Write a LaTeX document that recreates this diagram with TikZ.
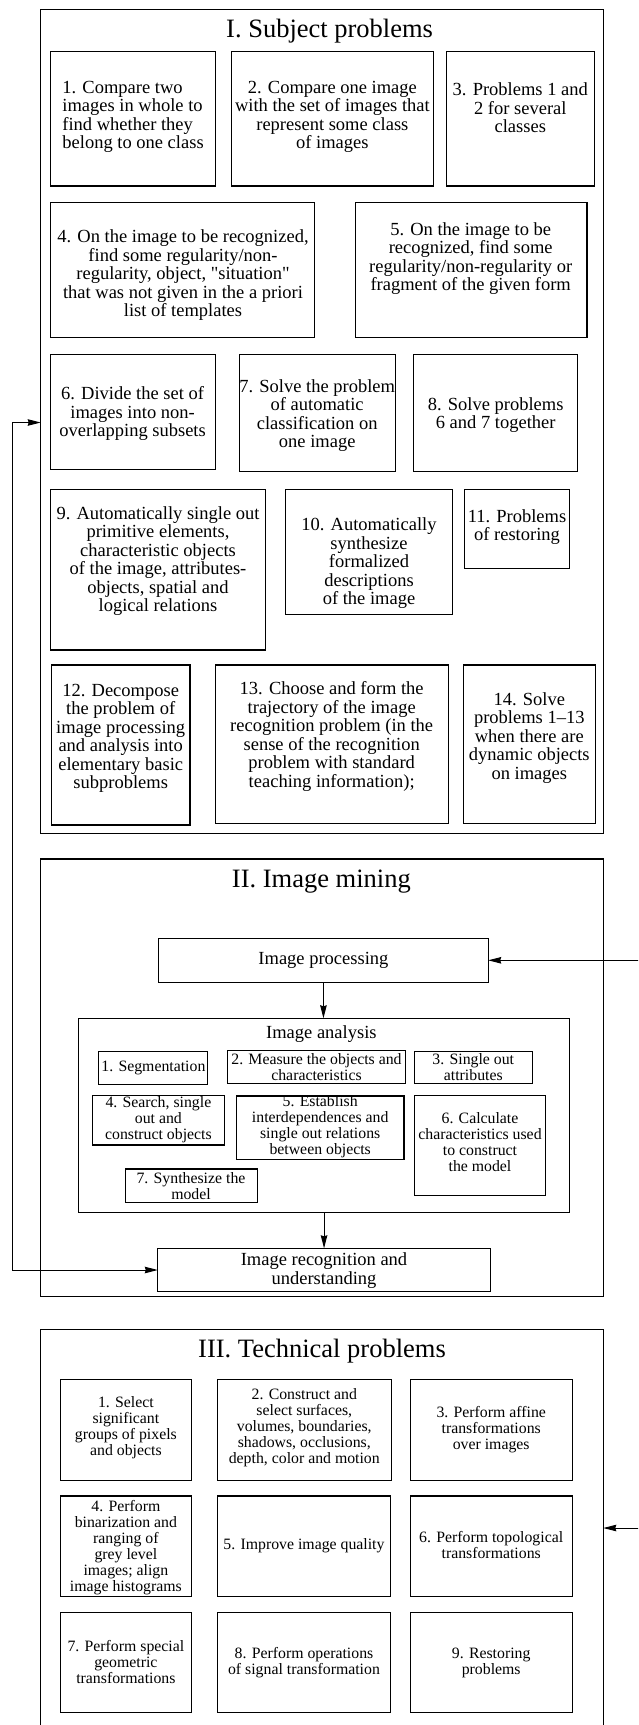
\documentclass[tikz,border=0pt]{standalone}
\usepackage{fontspec}
\setmainfont{Liberation Serif}
\newfontfamily\qfont{Liberation Serif}
\usetikzlibrary{arrows.meta}
\newcommand\bigfont{\fontsize{18.5}{18.5}\selectfont}
\newcommand\smfont{\fontsize{15.8}{16}\selectfont}
\newcommand\ttlfont{\fontsize{26.5}{30}\selectfont}
\newcommand\sq{{\qfont"}}
\newcommand\mkbox[6][bx]{\node[#1,minimum width={#5-#3},minimum height={#6-#4}] (#2) at ({(#3+#5)/2},{(#4+#6)/2}) {};}
\tikzset{
  bx/.style={draw, rectangle, line width=1.1pt, inner sep=0pt, outer sep=0pt},
  obx/.style={draw, rectangle, line width=1.2pt, inner sep=0pt, outer sep=0pt},
  txt/.style={inner sep=0pt, align=center, font=\bigfont},
  stxt/.style={inner sep=0pt, align=center, font=\smfont},
  ttl/.style={inner sep=0pt, font=\ttlfont},
  tip/.tip={Stealth[length=13pt,width=6.5pt,inset=1pt]},
  arr/.style={line width=1pt, -tip},
  darr/.style={line width=1pt, tip-tip},
}
\begin{document}
\begin{tikzpicture}[x=1pt,y=-1pt]
\useasboundingbox (0,0) rectangle (638,1725);
\clip (0,0) rectangle (638,1725);
% ---------- I. Subject problems ----------
\mkbox[obx]{boxI}{40.7}{9.3}{603.3}{833.3}
\node[ttl] (ttlI) at (329.6,31.5) {I. Subject problems};
\mkbox{b1}{50.4}{51.7}{215.6}{186}
\mkbox{b2}{231.9}{51.7}{433.3}{186}
\mkbox{b3}{446.3}{51.7}{594.4}{186}
\node[txt,align=left,anchor=west] (t1) at (62.2,117) {1. Compare two\\images in whole to\\find whether they\\belong to one class};
\node[txt] (t2) at (332.4,117) {2. Compare one image\\with the set of images that\\represent some class\\of images};
\node[txt] (t3) at (520.3,108) {3. Problems 1 and\\2 for several\\classes};
\mkbox{b4}{50.4}{202.7}{314.5}{337.7}
\mkbox{b5}{355.2}{202.7}{587}{337.7}
\node[txt] (t4) at (183,275.5) {4. On the image to be recognized,\\find some regularity/non-\\regularity, object, \sq situation\sq\\that was not given in the a priori\\list of templates};
\node[txt] (t5) at (470.7,258.5) {5. On the image to be\\recognized, find some\\regularity/non-regularity or\\fragment of the given form};
\mkbox{b6}{50.4}{354.3}{215.6}{469.3}
\mkbox{b7}{239.2}{354.3}{395.4}{471.7}
\mkbox{b8}{413.7}{354.3}{577.7}{471.7}
\node[txt] (t6) at (132.6,413.5) {6. Divide the set of\\images into non-\\overlapping subsets};
\node[txt] (t7) at (317.2,415.5) {7. Solve the problem\\of automatic\\classification on\\one image};
\node[txt] (t8) at (495.7,415) {8. Solve problems\\6 and 7 together};
\mkbox{b9}{50.4}{489.3}{265.7}{650}
\mkbox{b10}{285.6}{489.3}{452.4}{614.3}
\mkbox{b11}{464.6}{489.3}{569.6}{568.7}
\node[txt] (t9) at (158,561) {9. Automatically single out\\primitive elements,\\characteristic objects\\of the image, attributes-\\objects, spatial and\\logical relations};
\node[txt] (t10) at (369,563.5) {10. Automatically\\synthesize\\formalized\\descriptions\\of the image};
\node[txt] (t11) at (517,527) {11. Problems\\of restoring};
\mkbox{b12}{51.3}{665}{190}{825}
\mkbox{b13}{215.2}{665}{448.3}{823.3}
\mkbox{b14}{463.8}{665}{595.2}{823.3}
\node[txt] (t12) at (120.7,738.3) {12. Decompose\\the problem of\\image processing\\and analysis into\\elementary basic\\subproblems};
\node[txt] (t13) at (331.7,736.6) {13. Choose and form the\\trajectory of the image\\recognition problem (in the\\sense of the recognition\\problem with standard\\teaching information);};
\node[txt] (t14) at (529.3,738) {14. Solve\\problems 1\textendash13\\when there are\\dynamic objects\\on images};
% ---------- II. Image mining ----------
\mkbox[obx]{boxII}{40.7}{859}{603.3}{1296.7}
\node[ttl] (ttlII) at (321.4,881.5) {II. Image mining};
\mkbox{proc}{158.7}{938.3}{488.2}{982.3}
\node[txt] (tproc) at (proc) {Image processing};
\mkbox{ana}{78.5}{1018.3}{569.6}{1212.3}
\node[txt] (tana) at (321.4,1034.5) {Image analysis};
\mkbox{s1}{98.9}{1051.7}{207.5}{1084.7}
\mkbox{s2}{227.8}{1050.7}{405.2}{1083.7}
\mkbox{s3}{414.2}{1051.3}{532.5}{1083.7}
\mkbox{s4}{92.8}{1095.3}{224.2}{1145}
\mkbox{s5}{236.4}{1096}{404}{1159.3}
\mkbox{s6}{414.2}{1095.3}{545.6}{1195.7}
\mkbox{s7}{125.3}{1169}{257.1}{1202.3}
\node[stxt] (ts1) at (153.4,1068) {1. Segmentation};
\node[stxt] (ts2) at (316.5,1067.5) {2. Measure the objects and\\characteristics};
\node[stxt] (ts3) at (473.3,1067.5) {3. Single out\\attributes};
\node[stxt] (ts4) at (158.4,1120) {4. Search, single\\out and\\construct objects};
\node[stxt] (ts5) at (320.2,1127) {5. Establish\\interdependences and\\single out relations\\between objects};
\node[stxt] (ts6) at (480,1142) {6. Calculate\\characteristics used\\to construct\\the model};
\node[stxt] (ts7) at (191,1185.7) {7. Synthesize the\\model};
\mkbox{rec}{157.8}{1248.3}{490.2}{1291.7}
\node[txt] (trec) at (324,1270.5) {Image recognition and\\understanding};
% ---------- III. Technical problems ----------
\mkbox[obx]{boxIII}{40.7}{1329.3}{603.3}{1745}
\node[ttl] (ttlIII) at (322,1351) {III. Technical problems};
\mkbox{c1}{60.2}{1379.3}{191.6}{1480.3}
\mkbox{c2}{217.2}{1379.3}{391.6}{1480.3}
\mkbox{c3}{410.1}{1379.3}{572.4}{1480.3}
\mkbox{c4}{60.2}{1496}{191.6}{1596.7}
\mkbox{c5}{217.2}{1496}{390.6}{1596.7}
\mkbox{c6}{410.1}{1496}{572.4}{1596.7}
\mkbox{c7}{60.2}{1612.3}{191.6}{1712.3}
\mkbox{c8}{217.2}{1612.3}{390.6}{1712.3}
\mkbox{c9}{410.1}{1612.3}{572.4}{1712.3}
\node[stxt] (tc1) at (125.9,1428) {1. Select\\significant\\groups of pixels\\and objects};
\node[stxt] (tc2) at (304.3,1428) {2. Construct and\\select surfaces,\\volumes, boundaries,\\shadows, occlusions,\\depth, color and motion};
\node[stxt] (tc3) at (491.2,1430) {3. Perform affine\\transformations\\over images};
\node[stxt] (tc4) at (125.9,1547.5) {4. Perform\\binarization and\\ranging of\\grey level\\images; align\\image histograms};
\node[stxt] (tc5) at (304,1546) {5. Improve image quality};
\node[stxt] (tc6) at (491.2,1545) {6. Perform topological\\transformations};
\node[stxt] (tc7) at (125.9,1661.5) {7. Perform special\\geometric\\transformations};
\node[stxt] (tc8) at (304,1662.7) {8. Perform operations\\of signal transformation};
\node[stxt] (tc9) at (491.2,1662.7) {9. Restoring\\problems};
% ---------- connectors ----------
\draw[arr] (proc.south) -- (proc.south |- ana.north);
\draw[arr] (ana.south) -- (ana.south |- rec.north);
\coordinate (lf1) at (12,422.5);
\coordinate (lf2) at (12,1270);
\draw[darr] (lf1 -| boxI.west) -- (lf1) -- (lf2) -- (lf2 -| rec.west);
\coordinate (rr1) at (640,960.3);
\coordinate (rr3) at (640,1528);
\draw[arr] (rr1) -- (rr1 -| proc.east);
\draw[arr] (rr3) -- (rr3 -| boxIII.east);
\end{tikzpicture}
\end{document}
